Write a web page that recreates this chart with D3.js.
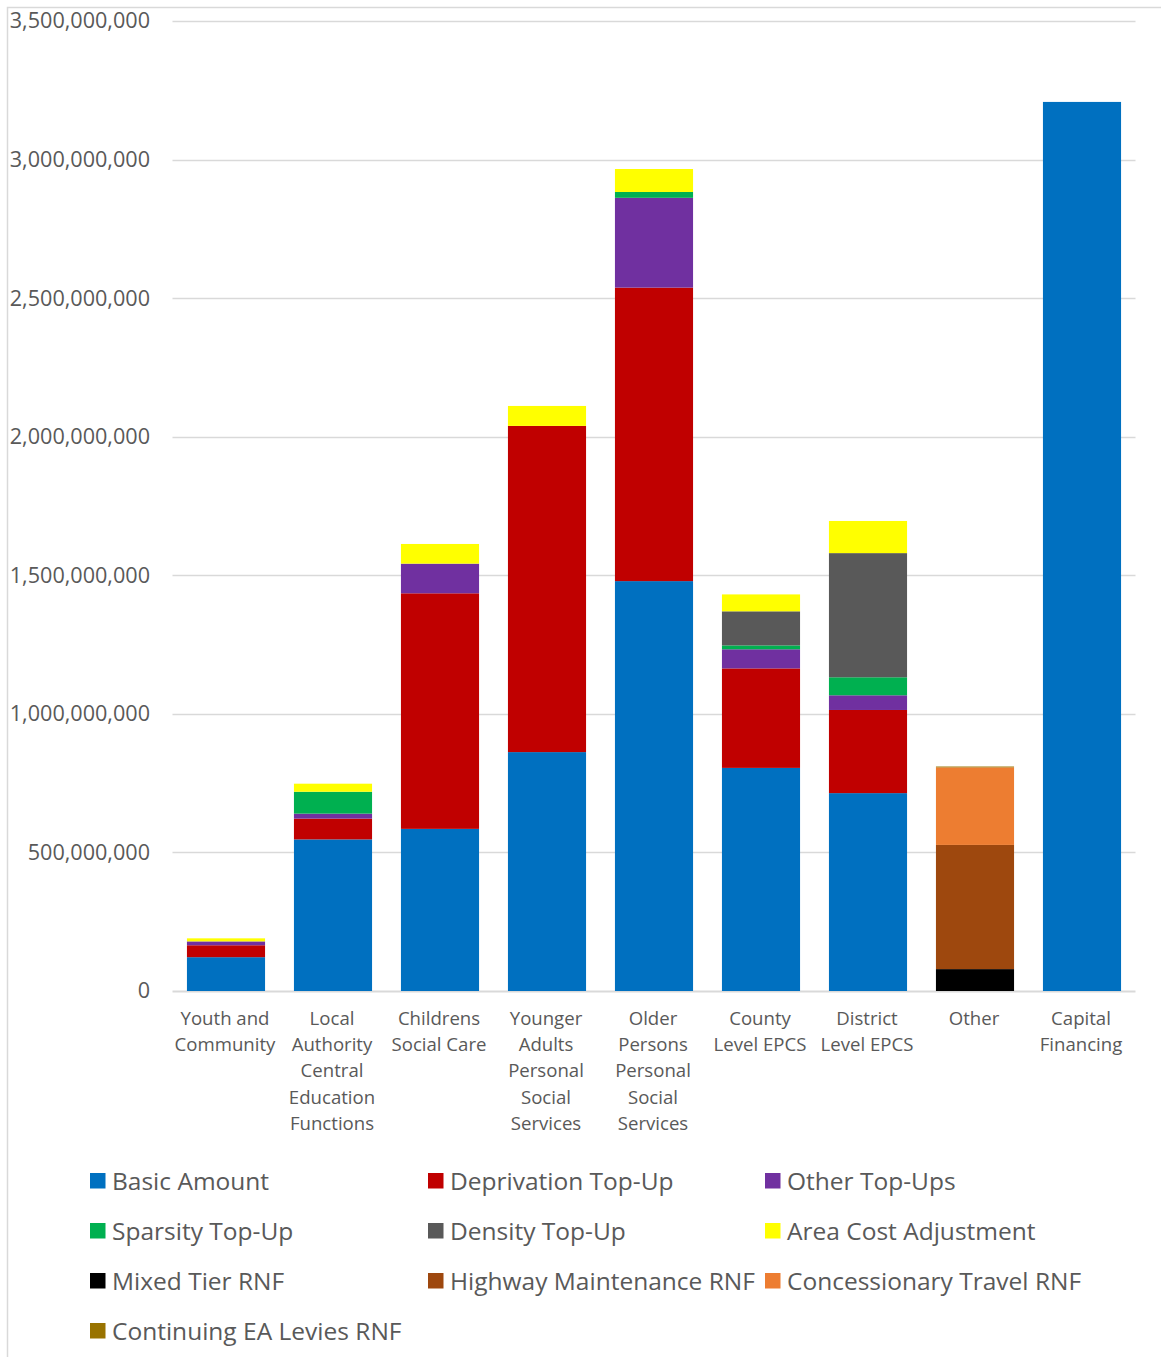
<!DOCTYPE html>
<html>
<head>
<meta charset="utf-8">
<script src="https://cdn.jsdelivr.net/npm/d3@7"></script>
<style>
  html, body { margin: 0; padding: 0; background: #ffffff; }
  svg { display: block; font-family: "Open Sans", "Noto Sans", sans-serif; }
</style>
</head>
<body>
<svg id="chart" width="1161" height="1357"></svg>
<script>
// Spending blocks along the x axis (multi-line labels split on "|")
const categories = [
  "Youth and|Community",
  "Local|Authority|Central|Education|Functions",
  "Childrens|Social Care",
  "Younger|Adults|Personal|Social|Services",
  "Older|Persons|Personal|Social|Services",
  "County|Level EPCS",
  "District|Level EPCS",
  "Other",
  "Capital|Financing"
];

// Funding components, stacked bottom to top
const seriesNames = [
  "Basic Amount", "Deprivation Top-Up", "Other Top-Ups",
  "Sparsity Top-Up", "Density Top-Up", "Area Cost Adjustment",
  "Mixed Tier RNF", "Highway Maintenance RNF", "Concessionary Travel RNF",
  "Continuing EA Levies RNF"
];
const seriesColors = [
  "#0070C0", "#C00000", "#7030A0",
  "#00B050", "#595959", "#FFFF00",
  "#000000", "#9E480E", "#ED7D31",
  "#997300"
];

// Values per category (£), one array per component
const basicAmount         = [122e6, 547e6, 585e6, 862e6, 1479e6, 805e6, 714e6, 0, 3208e6];
const deprivationTopUp    = [43e6, 75e6, 850e6, 1177e6, 1059e6, 359e6, 300e6, 0, 0];
const otherTopUps         = [14e6, 18e6, 107e6, 0, 324e6, 69e6, 53e6, 0, 0];
const sparsityTopUp       = [0, 79e6, 0, 0, 21e6, 14e6, 65e6, 0, 0];
const densityTopUp        = [0, 0, 0, 0, 0, 123e6, 448e6, 0, 0];
const areaCostAdjustment  = [11e6, 29e6, 71e6, 72e6, 83e6, 61e6, 116e6, 0, 0];
const mixedTierRNF        = [0, 0, 0, 0, 0, 0, 0, 79e6, 0];
const highwayMaintenance  = [0, 0, 0, 0, 0, 0, 0, 448e6, 0];
const concessionaryTravel = [0, 0, 0, 0, 0, 0, 0, 280e6, 0];
const continuingEALevies  = [0, 0, 0, 0, 0, 0, 0, 3e6, 0];

const yTicks = [0, 500e6, 1000e6, 1500e6, 2000e6, 2500e6, 3000e6, 3500e6];

const seriesValues = [
  basicAmount, deprivationTopUp, otherTopUps, sparsityTopUp, densityTopUp,
  areaCostAdjustment, mixedTierRNF, highwayMaintenance, concessionaryTravel,
  continuingEALevies
];

const rows = categories.map((c, i) => {
  const r = { category: c };
  seriesNames.forEach((s, k) => { r[s] = seriesValues[k][i]; });
  return r;
});

const svg = d3.select("#chart");
const textColor = "#595959";
const gridColor = "#d9d9d9";

// Outer chart frame
svg.append("rect")
  .attr("x", 7.5).attr("y", 7.5)
  .attr("width", 1170).attr("height", 1370)
  .attr("fill", "none").attr("stroke", gridColor).attr("stroke-width", 1.5);

const plot = { left: 172.5, right: 1135.5, top: 21, bottom: 991 };

const x = d3.scaleBand()
  .domain(categories)
  .range([plot.left, plot.right])
  .paddingInner(0.27)
  .paddingOuter(0.135);

const y = d3.scaleLinear()
  .domain([0, 3500e6])
  .range([plot.bottom, plot.top]);

// Gridlines
svg.append("g")
  .selectAll("line")
  .data(yTicks)
  .join("line")
  .attr("x1", plot.left).attr("x2", plot.right)
  .attr("y1", d => Math.round(y(d)) + 0.5)
  .attr("y2", d => Math.round(y(d)) + 0.5)
  .attr("stroke", gridColor)
  .attr("stroke-width", d => d === 0 ? 2 : 1.5);

// Y axis labels
const yAxis = d3.axisLeft(y)
  .tickValues(yTicks)
  .tickFormat(d3.format(","))
  .tickSize(0)
  .tickPadding(0);

const yg = svg.append("g")
  .attr("transform", `translate(150,0)`)
  .call(yAxis);
yg.select(".domain").remove();
yg.selectAll("text")
  .attr("fill", textColor)
  .style("font-size", "21.6px")
  .style("font-family", "'Open Sans', sans-serif");

// Stacked bars
const stack = d3.stack().keys(seriesNames);
const layers = stack(rows);

svg.append("g")
  .selectAll("g")
  .data(layers)
  .join("g")
  .attr("fill", (d, i) => seriesColors[i])
  .selectAll("rect")
  .data(d => d.filter(p => p[1] - p[0] > 0))
  .join("rect")
  .attr("x", d => x(d.data.category))
  .attr("width", x.bandwidth())
  .attr("y", d => y(d[1]))
  .attr("height", d => y(d[0]) - y(d[1]));

// Category labels
const xg = svg.append("g");
categories.forEach(c => {
  const cx = x(c) + x.bandwidth() / 2 - 1;
  const t = xg.append("text")
    .attr("x", cx)
    .attr("y", 1025)
    .attr("text-anchor", "middle")
    .attr("fill", textColor)
    .style("font-size", "18.6px");
  c.split("|").forEach((line, i) => {
    t.append("tspan")
      .attr("x", cx)
      .attr("dy", i === 0 ? 0 : 26.2)
      .text(line);
  });
});

// Legend: three columns, row-major
const legendCols = [90, 428, 765];
const legendRowY = [1181, 1231, 1281, 1331];
const legend = svg.append("g");
seriesNames.forEach((name, i) => {
  const cx = legendCols[i % 3];
  const cy = legendRowY[Math.floor(i / 3)];
  legend.append("rect")
    .attr("x", cx).attr("y", cy - 8)
    .attr("width", 15.5).attr("height", 15.5)
    .attr("fill", seriesColors[i]);
  legend.append("text")
    .attr("x", cx + 22)
    .attr("y", cy)
    .attr("dy", "0.35em")
    .attr("fill", textColor)
    .style("font-size", "24.5px")
    .text(name);
});
</script>
</body>
</html>
